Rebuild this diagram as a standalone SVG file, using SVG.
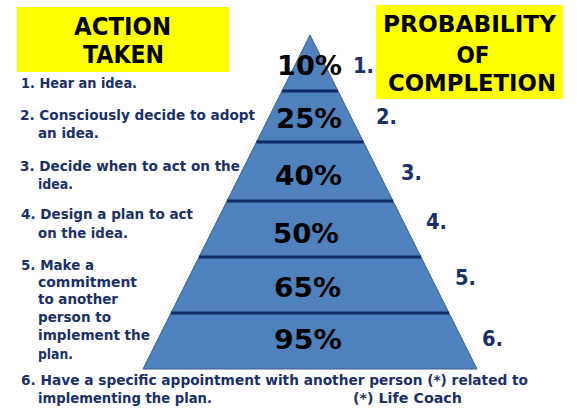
<svg xmlns="http://www.w3.org/2000/svg" width="577" height="411" viewBox="0 0 577 411">
<style>
.hdr{font-family:"DejaVu Sans",Verdana,sans-serif;font-weight:bold;fill:#000;text-anchor:middle}
.pct{font-family:"DejaVu Sans",Verdana,sans-serif;font-weight:bold;font-size:27px;fill:#000}
.num{font-family:"DejaVu Sans",Verdana,sans-serif;font-weight:bold;font-size:22px;fill:#1a2f66}
.itm{font-family:"DejaVu Sans",Verdana,sans-serif;font-weight:bold;font-size:14.5px;fill:#1a2f66}
.div{stroke:#0f2b66;stroke-width:3;fill:none}
</style>
<rect width="577" height="411" fill="#ffffff"/>
<g id="header-action">
<rect x="17" y="7" width="212" height="65" fill="#ffff00"/>
<text class="hdr" x="122.5" y="35" font-size="25" textLength="97" lengthAdjust="spacingAndGlyphs">ACTION</text>
<text class="hdr" x="123.5" y="63" font-size="25" textLength="81" lengthAdjust="spacingAndGlyphs">TAKEN</text>
</g>
<g id="header-probability">
<rect x="376" y="5" width="187" height="94" fill="#ffff00"/>
<text class="hdr" x="469.5" y="32" font-size="23" textLength="173" lengthAdjust="spacingAndGlyphs">PROBABILITY</text>
<text class="hdr" x="473" y="63" font-size="23" textLength="33" lengthAdjust="spacingAndGlyphs">OF</text>
<text class="hdr" x="472" y="91" font-size="23" textLength="168" lengthAdjust="spacingAndGlyphs">COMPLETION</text>
</g>
<g id="pyramid">
<polygon points="310,35 477,369 143,369" fill="#4f81bd" stroke="#3a5f8f" stroke-width="1"/>
</g>
<g id="connectors">
<line class="div" x1="282" y1="91" x2="338" y2="91"/>
<line class="div" x1="256.5" y1="142" x2="363.5" y2="142"/>
<line class="div" x1="227" y1="201" x2="393" y2="201"/>
<line class="div" x1="199" y1="257" x2="421" y2="257"/>
<line class="div" x1="171" y1="313" x2="449" y2="313"/>
</g>
<g id="level-1"><text class="pct" x="277" y="75" textLength="65" lengthAdjust="spacingAndGlyphs">10%</text><text class="num" x="353" y="73" textLength="21" lengthAdjust="spacingAndGlyphs">1.</text></g>
<g id="level-2"><text class="pct" x="276" y="128" textLength="66" lengthAdjust="spacingAndGlyphs">25%</text><text class="num" x="376" y="124" textLength="21" lengthAdjust="spacingAndGlyphs">2.</text></g>
<g id="level-3"><text class="pct" x="275" y="185" textLength="67" lengthAdjust="spacingAndGlyphs">40%</text><text class="num" x="401" y="180" textLength="21" lengthAdjust="spacingAndGlyphs">3.</text></g>
<g id="level-4"><text class="pct" x="273" y="243" textLength="66" lengthAdjust="spacingAndGlyphs">50%</text><text class="num" x="426" y="229" textLength="21" lengthAdjust="spacingAndGlyphs">4.</text></g>
<g id="level-5"><text class="pct" x="274" y="297" textLength="67" lengthAdjust="spacingAndGlyphs">65%</text><text class="num" x="455" y="285" textLength="21" lengthAdjust="spacingAndGlyphs">5.</text></g>
<g id="level-6"><text class="pct" x="274" y="349" textLength="68" lengthAdjust="spacingAndGlyphs">95%</text><text class="num" x="482" y="346" textLength="21" lengthAdjust="spacingAndGlyphs">6.</text></g>
<g id="action-1"><text class="itm" x="21" y="88" textLength="116" lengthAdjust="spacingAndGlyphs">1. Hear an idea.</text></g>
<g id="action-2">
<text class="itm" x="20" y="120" textLength="235" lengthAdjust="spacingAndGlyphs">2. Consciously decide to adopt</text>
<text class="itm" x="38" y="138" textLength="61" lengthAdjust="spacingAndGlyphs">an idea.</text>
</g>
<g id="action-3">
<text class="itm" x="20" y="171" textLength="220" lengthAdjust="spacingAndGlyphs">3. Decide when to act on the</text>
<text class="itm" x="38" y="189" textLength="35" lengthAdjust="spacingAndGlyphs">idea.</text>
</g>
<g id="action-4">
<text class="itm" x="21" y="219" textLength="172" lengthAdjust="spacingAndGlyphs">4. Design a plan to act</text>
<text class="itm" x="38" y="238" textLength="90" lengthAdjust="spacingAndGlyphs">on the idea.</text>
</g>
<g id="action-5">
<text class="itm" x="21" y="270" textLength="73" lengthAdjust="spacingAndGlyphs">5. Make a</text>
<text class="itm" x="38" y="287" textLength="99" lengthAdjust="spacingAndGlyphs">commitment</text>
<text class="itm" x="38" y="304" textLength="80" lengthAdjust="spacingAndGlyphs">to another</text>
<text class="itm" x="38" y="322" textLength="73" lengthAdjust="spacingAndGlyphs">person to</text>
<text class="itm" x="38" y="340" textLength="112" lengthAdjust="spacingAndGlyphs">implement the</text>
<text class="itm" x="38" y="359" textLength="35" lengthAdjust="spacingAndGlyphs">plan.</text>
</g>
<g id="action-6">
<text class="itm" x="21" y="385" textLength="507" lengthAdjust="spacingAndGlyphs">6. Have a specific appointment with another person (*) related to</text>
<text class="itm" x="38" y="403" textLength="174" lengthAdjust="spacingAndGlyphs">implementing the plan.</text>
<text class="itm" x="353" y="403" textLength="109" lengthAdjust="spacingAndGlyphs">(*) Life Coach</text>
</g>
</svg>
